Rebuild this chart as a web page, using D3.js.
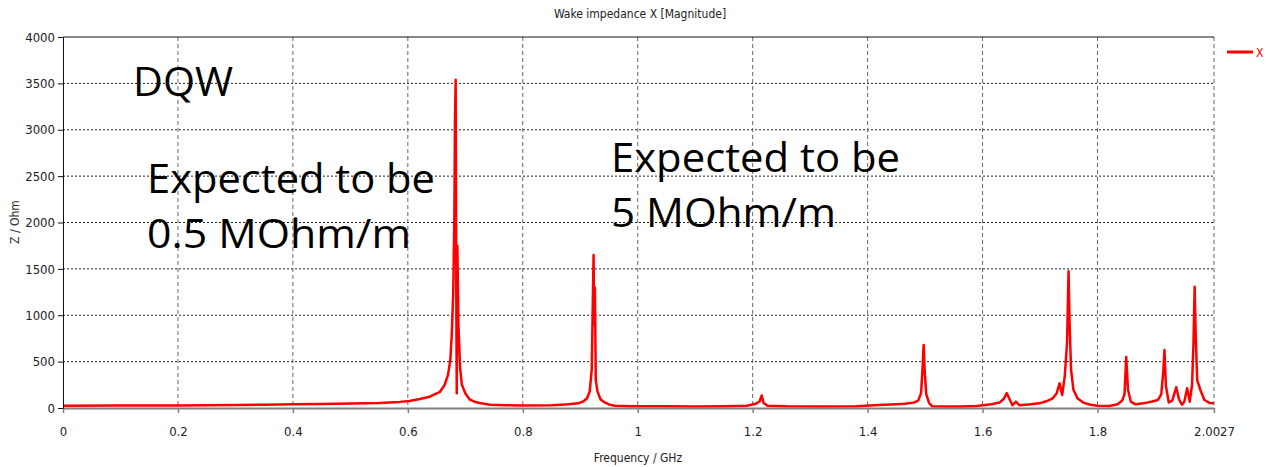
<!DOCTYPE html>
<html>
<head>
<meta charset="utf-8">
<script src="https://cdn.jsdelivr.net/npm/d3@7"></script>
<style>
  body { margin: 0; background: #fff; }
  svg { display: block; }
  .tick text { font-family: "Liberation Sans Narrow", "DejaVu Sans Condensed", sans-serif; font-size: 13px; fill: #222; }
</style>
</head>
<body>
<div id="container"></div>
<script>
// chart size
var w = 1266,
    h = 467;
var margin = { top: 37, right: 52, bottom: 59, left: 63 };

// frequency (GHz) and |Z| (Ohm)
var freq = [
  0, 0.1, 0.2, 0.25, 0.3, 0.35, 0.4, 0.45, 0.5, 0.55, 0.586, 0.603, 0.621, 0.638,
  0.656, 0.664, 0.670, 0.674, 0.6765, 0.679, 0.681, 0.682, 0.6832, 0.6842, 0.6851,
  0.6862, 0.688, 0.691, 0.694, 0.700, 0.708, 0.716, 0.725, 0.743, 0.77, 0.8, 0.85,
  0.88, 0.896, 0.905, 0.912, 0.9165, 0.920, 0.922, 0.9232, 0.9242, 0.9255, 0.927,
  0.930, 0.935, 0.9425, 0.950, 0.960, 0.990, 1.05, 1.1, 1.15, 1.19, 1.205, 1.212,
  1.2157, 1.219, 1.226, 1.26, 1.32, 1.38, 1.42, 1.45, 1.465, 1.48, 1.488, 1.493,
  1.4955, 1.4975, 1.4995, 1.502, 1.507, 1.512, 1.53, 1.56, 1.59, 1.615, 1.630,
  1.637, 1.642, 1.647, 1.652, 1.658, 1.664, 1.68, 1.699, 1.712, 1.722, 1.729,
  1.734, 1.7385, 1.743, 1.747, 1.7496, 1.7515, 1.754, 1.758, 1.765, 1.775, 1.788,
  1.80, 1.82, 1.835, 1.843, 1.847, 1.850, 1.853, 1.858, 1.866, 1.88, 1.895,
  1.905, 1.911, 1.9145, 1.9165, 1.919, 1.924, 1.930, 1.937, 1.942, 1.947, 1.951,
  1.956, 1.9605, 1.9645, 1.967, 1.969, 1.971, 1.9735, 1.979, 1.986, 1.995, 2.0027
];
var magnitude = [
  25, 26, 28, 30, 33, 36, 40, 44, 48, 55, 66, 76, 97, 122,
  175, 248, 360, 520, 800, 1250, 2100, 3100, 3540, 1400, 160,
  1750, 900, 430, 250, 160, 90, 68, 54, 34, 30, 26, 30,
  40, 50, 70, 105, 180, 420, 1200, 1650, 900, 1300, 300,
  180, 95, 60, 38, 24, 20, 18, 17, 18, 24, 45, 70,
  135, 55, 24, 18, 16, 20, 32, 40, 46, 58, 80, 160,
  420, 680, 380, 150, 54, 20, 16, 16, 22, 40, 60,
  100, 160, 95, 30, 68, 30, 38, 50, 75, 104, 160,
  266, 140, 340, 700, 1475, 900, 410, 200, 104, 58, 35,
  24, 22, 40, 80, 150, 550, 200, 68, 40, 50, 70,
  86, 150, 400, 625, 240, 60, 80, 223, 90, 35, 68,
  212, 68, 248, 700, 1308, 769, 300, 194, 86, 55, 50
];

// axis ticks
var xTickValues = [0, 0.2, 0.4, 0.6, 0.8, 1, 1.2, 1.4, 1.6, 1.8, 2.0027];
var xTickLabels = ["0", "0.2", "0.4", "0.6", "0.8", "1", "1.2", "1.4", "1.6", "1.8", "2.0027"];
var yTickValues = [0, 500, 1000, 1500, 2000, 2500, 3000, 3500, 4000];

var points = freq.map(function(f, i) { return { f: f, z: magnitude[i] }; });

var svg = d3.select("div#container")
  .append("svg")
  .attr("width", w)
  .attr("height", h)
  .attr("viewBox", `0 0 ${w} ${h}`);

var x = d3.scaleLinear()
  .domain([0, 2.0027])
  .range([margin.left, w - margin.right]);

var y = d3.scaleLinear()
  .domain([0, 4000])
  .range([h - margin.bottom, margin.top]);

// grid: dotted horizontal, dashed vertical
svg.append("g")
  .selectAll("line")
  .data(yTickValues.filter(function(d) { return d > 0 && d < 4000; }))
  .enter().append("line")
  .attr("x1", x(0)).attr("x2", x(2.0027))
  .attr("y1", function(d) { return y(d); })
  .attr("y2", function(d) { return y(d); })
  .attr("stroke", "#222")
  .attr("stroke-width", 1)
  .attr("stroke-dasharray", "2,2");

svg.append("g")
  .selectAll("line")
  .data(xTickValues.filter(function(d) { return d > 0; }))
  .enter().append("line")
  .attr("x1", function(d) { return x(d); })
  .attr("x2", function(d) { return x(d); })
  .attr("y1", y(4000)).attr("y2", y(0))
  .attr("stroke", "#666")
  .attr("stroke-width", 1)
  .attr("stroke-dasharray", "4,3");

// top border
svg.append("line")
  .attr("x1", x(0)).attr("x2", x(2.0027))
  .attr("y1", y(4000)).attr("y2", y(4000))
  .attr("stroke", "#111");

// data line
var line = d3.line()
  .x(function(d) { return x(d.f); })
  .y(function(d) { return y(d.z); });

svg.append("path")
  .datum(points)
  .attr("fill", "none")
  .attr("stroke", "#ff0000")
  .attr("stroke-width", 2.5)
  .attr("stroke-linejoin", "round")
  .attr("d", line);

// x axis
var xAxis = d3.axisBottom(x)
  .tickValues(xTickValues)
  .tickFormat(function(d, i) { return xTickLabels[i]; })
  .tickSize(5)
  .tickPadding(14)
  .tickSizeOuter(0);

var gx = svg.append("g")
  .attr("transform", `translate(0,${y(0)})`)
  .call(xAxis);
gx.select(".domain").attr("stroke", "#808080").attr("stroke-width", 2);
gx.selectAll(".tick line").attr("stroke", "#808080").attr("stroke-width", 1.5);

// y axis
var yAxis = d3.axisLeft(y)
  .tickValues(yTickValues)
  .tickFormat(d3.format("d"))
  .tickSize(5)
  .tickPadding(3)
  .tickSizeOuter(0);

var gy = svg.append("g")
  .attr("transform", `translate(${x(0)},0)`)
  .call(yAxis);
gy.select(".domain").attr("stroke", "#111");
gy.selectAll(".tick line").attr("stroke", "#111");

// titles
var smallFont = "'Liberation Sans Narrow', 'DejaVu Sans Condensed', sans-serif";

svg.append("text")
  .attr("x", 640).attr("y", 18)
  .attr("text-anchor", "middle")
  .attr("font-family", smallFont)
  .attr("font-size", 12)
  .attr("fill", "#222")
  .text("Wake impedance X [Magnitude]");

svg.append("text")
  .attr("x", 638).attr("y", 462)
  .attr("text-anchor", "middle")
  .attr("font-family", smallFont)
  .attr("font-size", 12)
  .attr("fill", "#222")
  .text("Frequency / GHz");

svg.append("text")
  .attr("transform", "translate(19,222) rotate(-90)")
  .attr("text-anchor", "middle")
  .attr("font-family", smallFont)
  .attr("font-size", 12)
  .attr("fill", "#333")
  .text("Z / Ohm");

// legend
svg.append("line")
  .attr("x1", 1227).attr("x2", 1253)
  .attr("y1", 52).attr("y2", 52)
  .attr("stroke", "#ff0000")
  .attr("stroke-width", 3);

svg.append("text")
  .attr("x", 1256).attr("y", 57)
  .attr("font-family", smallFont)
  .attr("font-size", 12)
  .attr("fill", "#ff0000")
  .text("X");

// annotations
var notes = [
  { t: "DQW", x: 133, y: 96, len: 100 },
  { t: "Expected to be", x: 147, y: 193, len: 288 },
  { t: "0.5 MOhm/m", x: 147, y: 248, len: 264 },
  { t: "Expected to be", x: 611, y: 172, len: 289 },
  { t: "5 MOhm/m", x: 611, y: 227, len: 225 }
];

svg.append("g")
  .selectAll("text")
  .data(notes)
  .enter().append("text")
  .attr("x", function(d) { return d.x; })
  .attr("y", function(d) { return d.y; })
  .attr("font-family", "'Open Sans', sans-serif")
  .attr("font-size", 41)
  .attr("fill", "#000")
  .attr("textLength", function(d) { return d.len; })
  .attr("lengthAdjust", "spacingAndGlyphs")
  .text(function(d) { return d.t; });
</script>
</body>
</html>
